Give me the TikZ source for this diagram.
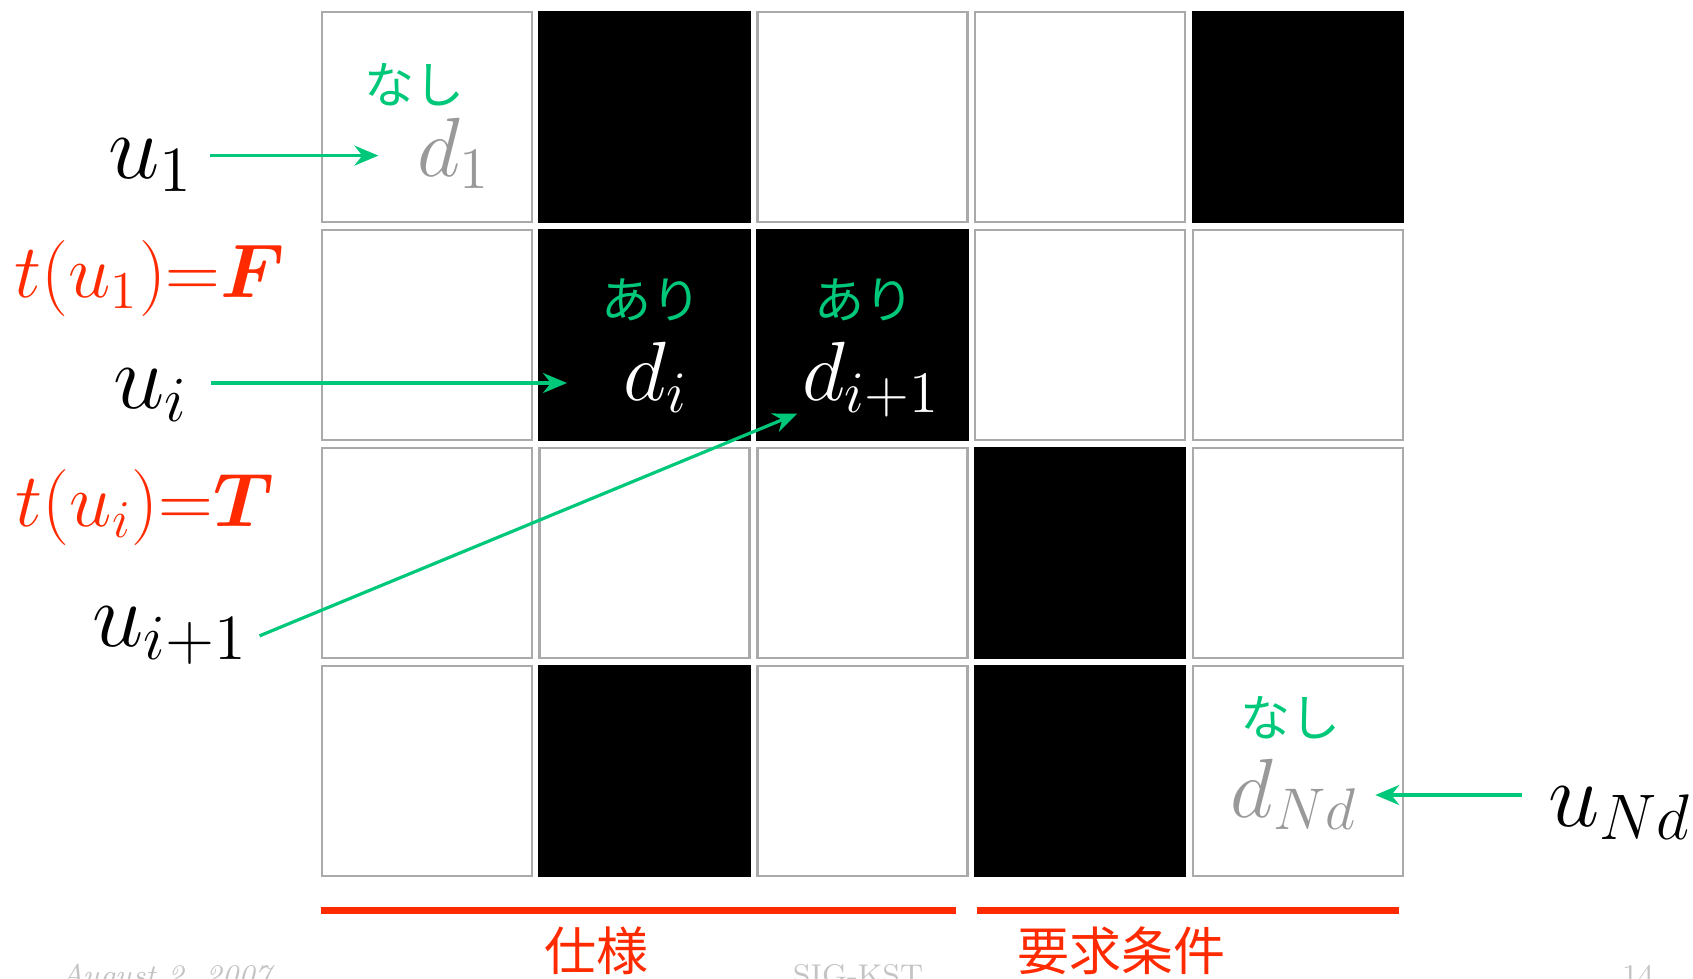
\RequirePackage{fix-cm}
\documentclass[tikz,border=0pt]{standalone}
\usepackage{amsmath,bm}
\usepackage{fontspec}
\newfontfamily\jpfont{Noto Sans CJK JP}
\usetikzlibrary{arrows.meta}
\definecolor{kgreen}{HTML}{00C87A}
\definecolor{kred}{HTML}{FF2A00}
\definecolor{dgray}{HTML}{999999}
\definecolor{cellgray}{HTML}{AAAAAA}
\definecolor{footgray}{HTML}{C4C4C4}

\begin{document}
\begin{tikzpicture}[x=0.25pt,y=-0.25pt,>={Stealth[length=6pt,width=5pt]},
        cell/.style={draw=cellgray,line width=0.6pt,minimum size=52.5pt,inner sep=0pt},
        cell0/.style={cell},cell1/.style={cell,draw=black,fill=black},
        ulbl/.style={anchor=base,inner sep=0pt,font=\fontsize{23}{28}\selectfont},
        dlbl/.style={anchor=base,inner sep=0pt,font=\fontsize{21}{26}\selectfont},
        tlbl/.style={anchor=base,inner sep=0pt,text=kred,font=\fontsize{19}{23}\selectfont},
        kana/.style={inner sep=0pt,text=kgreen,font=\jpfont\fontsize{12.5}{15}\selectfont},
        kanji/.style={anchor=north,inner sep=0pt,text=kred,font=\jpfont\fontsize{13}{16}\selectfont},
        foot/.style={anchor=base,inner sep=0pt,text=footgray,font=\fontsize{7.5}{9}\selectfont},
        bar/.style={draw=kred,line width=1.75pt},
        arr/.style={->,draw=kgreen,line width=0.8pt}]
        \useasboundingbox (0,0) rectangle (1693,978);
        % grid of documents
        \foreach \r/\row in {1/{0,1,0,0,1},2/{0,1,1,0,0},3/{0,0,0,1,0},4/{0,1,0,1,0}}
          \foreach \v [count=\c] in \row
            \node[cell\v] (c\r\c) at ({426.7+(\c-1)*217.8},{116.8+(\r-1)*218}) {};
        \node[kana] (nashi1) at (414,85) {なし};
        \node[dlbl,text=dgray] (d1) at (454,176) {$d_1$};
        \node[kana] (ari1) at (651,300) {あり};
        \node[kana] (ari2) at (864,300) {あり};
        \node[dlbl,text=white] (di) at (656,400) {$d_i$};
        \node[dlbl,text=white] (dip) at (871,400) {$d_{i+1}$};
        \node[kana] (nashi2) at (1290,718) {なし};
        \node[dlbl,text=dgray] (dNd) at (1294,817) {$d_{Nd}$};
        % users
        \node[ulbl] (u1) at (151,178) {$u_1$};
        \node[tlbl] (tF) at (150,297) {$t(u_1){=}\bm{F}$};
        \node[ulbl] (ui) at (151,408) {$u_i$};
        \node[tlbl] (tT) at (145,526) {$t(u_i){=}\bm{T}$};
        \node[ulbl] (uip) at (170,646) {$u_{i+1}$};
        \node[ulbl] (uNd) at (1620,826) {$u_{Nd}$};
        \draw[arr,shorten <=4pt,shorten >=9.5pt] ([yshift=5.6pt]u1.base east) -- ([yshift=5.6pt]u1.base east -| d1.west);
        \draw[arr,shorten <=5.5pt,shorten >=14pt] ([yshift=6.25pt]ui.base east) -- ([yshift=6.25pt]ui.base east -| di.west);
        \draw[arr,shorten <=3pt] ([yshift=1.4pt]uip.base east) -- ([xshift=-1pt,yshift=-3.4pt]dip.base west);
        \draw[arr,shorten <=6.5pt,shorten >=4.25pt] ([yshift=7.75pt]uNd.base west) -- ([yshift=7.75pt]uNd.base west -| dNd.east);
        % groups
        \draw[bar] (320.7,910) -- (955.5,910);\draw[bar] (977,910) -- (1399,910);
        \node[kanji] (spec) at (596,926) {仕様};
        \node[kanji] (req) at (1121,926) {要求条件};
        \node[foot] (date) at (166,985) {\itshape August 2, 2007};
        \node[foot] (venue) at (858,985) {SIG-KST};
        \node[foot] (page) at (1638,985) {14};
      \end{tikzpicture}
\end{document}
